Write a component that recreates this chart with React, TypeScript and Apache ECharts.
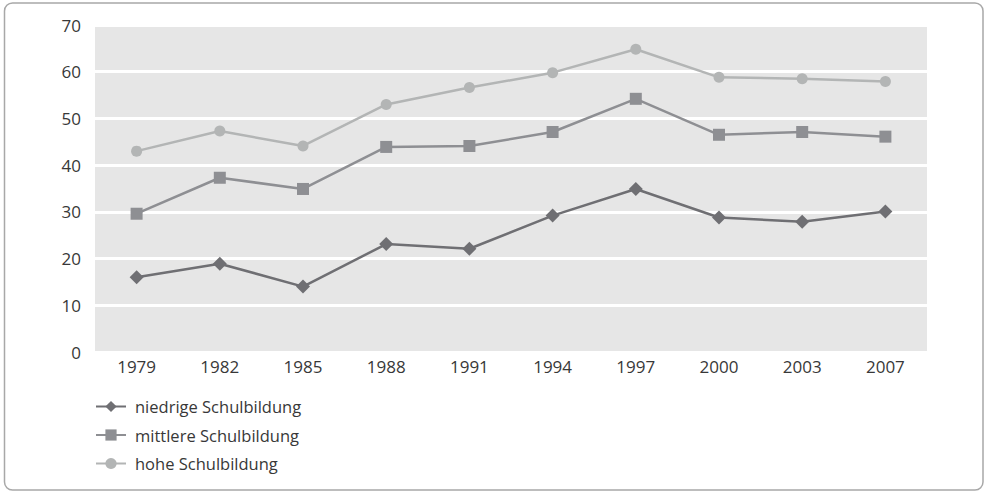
import React, { useEffect, useRef } from "react";
import * as echarts from "echarts";

const years = ["1979", "1982", "1985", "1988", "1991", "1994", "1997", "2000", "2003", "2007"];
const niedrige = [16.0, 18.9, 14.0, 23.1, 22.1, 29.2, 34.9, 28.8, 27.9, 30.1];
const mittlere = [29.6, 37.3, 34.9, 43.9, 44.1, 47.1, 54.2, 46.5, 47.1, 46.1];
const hohe = [43.0, 47.3, 44.1, 53.0, 56.6, 59.8, 64.8, 58.8, 58.5, 57.9];
const seriesNames = ["niedrige Schulbildung", "mittlere Schulbildung", "hohe Schulbildung"];

const FONT = "'Open Sans', 'Noto Sans', sans-serif";
const TEXT = "#383838";

export default function App() {
  const ref = useRef<HTMLDivElement>(null);
  useEffect(() => {
    if (!ref.current) return;
    const chart = echarts.init(ref.current, null, { renderer: "svg" });
    const mk = (name: string, data: number[], color: string, symbol: string, size: number) => ({
      name,
      type: "line",
      data,
      symbol,
      symbolSize: size,
      showAllSymbol: true,
      lineStyle: { color, width: 2.5 },
      itemStyle: { color },
      emphasis: { disabled: true },
    });
    chart.setOption({
      animation: false,
      textStyle: { fontFamily: FONT },
      graphic: [
        {
          type: "rect",
          shape: { x: 4.5, y: 3, width: 978.5, height: 487, r: 8 },
          style: { fill: "none", stroke: "#a8a8a8", lineWidth: 1.5 },
          z: -1,
        },
      ],
      grid: {
        left: 95,
        right: 57,
        top: 25,
        bottom: 139,
        show: true,
        backgroundColor: "#e6e6e6",
        borderWidth: 0,
      },
      legend: {
        orient: "vertical",
        left: 95,
        top: 398,
        padding: 0,
        itemWidth: 30,
        itemHeight: 14,
        itemGap: 11.5,
        textStyle: { color: TEXT, fontSize: 16.5, fontFamily: FONT, padding: [0, 0, 0, 4] },
        data: seriesNames,
      },
      xAxis: {
        type: "category",
        data: years,
        boundaryGap: true,
        axisLine: { show: false },
        axisTick: { show: false },
        axisLabel: { color: TEXT, fontSize: 17, margin: 6, fontFamily: FONT },
        splitLine: { show: false },
      },
      yAxis: {
        type: "value",
        min: 0,
        max: 70,
        interval: 10,
        axisLine: { show: false },
        axisTick: { show: false },
        axisLabel: { color: TEXT, fontSize: 17, margin: 14, fontFamily: FONT },
        splitLine: { show: true, lineStyle: { color: "#ffffff", width: 3 } },
      },
      series: [
        mk(seriesNames[0], niedrige, "#6f6f73", "diamond", 14),
        mk(seriesNames[1], mittlere, "#8e8f93", "rect", 12),
        mk(seriesNames[2], hohe, "#b3b5b5", "circle", 11),
      ],
    });
    return () => chart.dispose();
  }, []);
  return (
    <div
      ref={ref}
      style={{ position: "absolute", left: 0, top: 0, width: 984, height: 491 }}
    />
  );
}
